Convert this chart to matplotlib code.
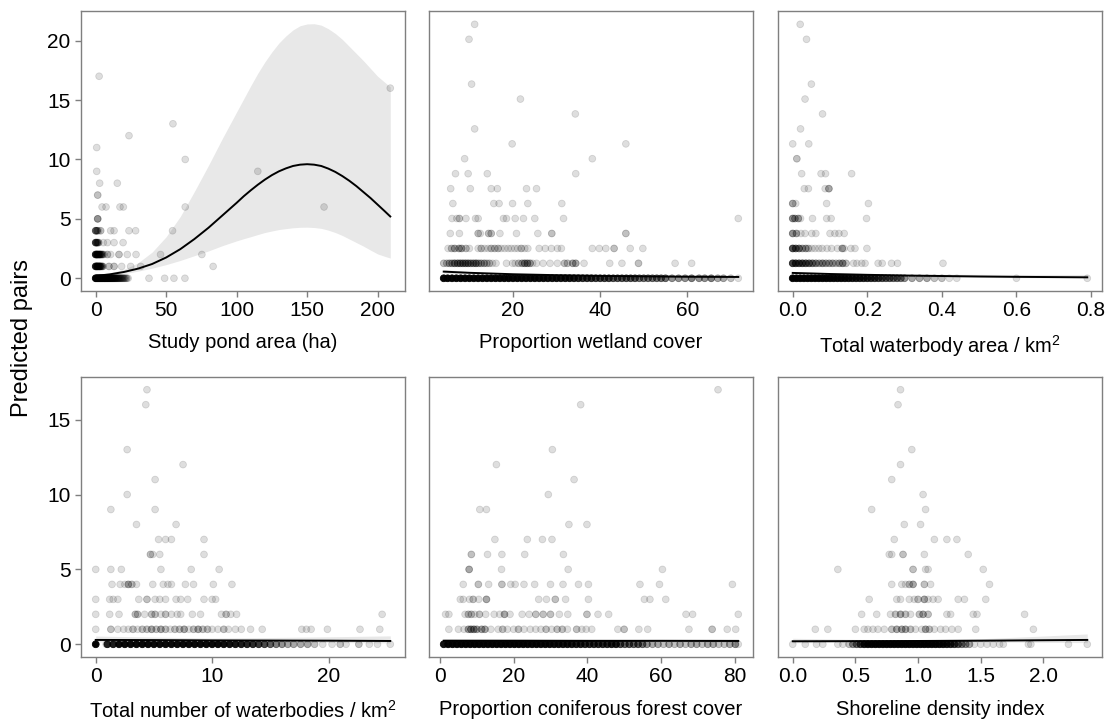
import numpy as np
import matplotlib.pyplot as plt

plt.rcParams["font.family"] = ["Liberation Sans", "DejaVu Sans"]
plt.rcParams["mathtext.fontset"] = "custom"
plt.rcParams["mathtext.rm"] = "Liberation Sans"

# ---------------------------------------------------------------
# Observed points, read off the figure: (x, y, n) where n is how
# many points sit on top of each other at that spot.
# ---------------------------------------------------------------

# Study pond area (ha)
pond_pts = [
    (0, 0, 40), (1, 0, 36), (2, 0, 32), (3, 0, 28), (4, 0, 24), (5, 0, 20), (6, 0, 18),
    (7, 0, 16), (8, 0, 14), (9, 0, 12), (10, 0, 11), (11, 0, 10), (12, 0, 9), (13, 0, 8),
    (14, 0, 7), (15, 0, 6), (16, 0, 5), (17, 0, 4), (18, 0, 4), (19, 0, 3), (20, 0, 3),
    (21, 0, 2), (22, 0, 2), (23, 0, 1), (37.8, 0, 1), (48.9, 0, 1), (55.5, 0, 1), (63.3, 0, 1),
    (0, 1, 14), (1, 1, 14), (2, 1, 12), (3, 1, 10), (4, 1, 5), (5, 1, 3), (9.4, 1, 2), (13, 1, 2),
    (18.4, 1, 1), (24.8, 1, 1), (31.9, 1, 1), (83.3, 1, 1),
    (0, 2, 14), (1, 2, 14), (2, 2, 11), (3, 2, 8), (4, 2, 5), (5, 2, 3), (6, 2, 1), (8.3, 2, 2),
    (10.6, 2, 1), (16.5, 2, 2), (22.4, 2, 1), (28.6, 2, 1), (46, 2, 1), (75.3, 2, 1),
    (0, 3, 9), (1, 3, 6), (2, 3, 3), (5.4, 3, 1), (8.3, 3, 1), (13, 3, 1), (19.4, 3, 1),
    (0, 4, 6), (1, 4, 4), (2, 4, 1), (3.5, 4, 2), (10.6, 4, 1), (13, 4, 1), (23.6, 4, 1),
    (28.3, 4, 1), (54.5, 4, 1),
    (1.4, 5, 4),
    (4.5, 6, 1), (7.3, 6, 1), (17.2, 6, 1), (19.6, 6, 1), (63.5, 6, 1), (162, 6, 1),
    (1.4, 7, 2),
    (2.8, 8, 1), (15.3, 8, 1),
    (0.7, 9, 1), (115, 9, 1),
    (63.5, 10, 1), (0.7, 11, 1), (23.6, 12, 1), (54.8, 13, 1), (209, 16, 1), (2.4, 17, 1),
]

# Proportion wetland cover
wetland_pts = [
    (4.1, 0, 28), (5, 0, 28), (6, 0, 28), (7, 0, 28), (8, 0, 28), (9, 0, 28), (10, 0, 28),
    (11, 0, 28), (12, 0, 28), (13, 0, 28), (14, 0, 28), (15, 0, 28), (16, 0, 28), (17, 0, 28),
    (18, 0, 28), (19, 0, 28), (20, 0, 26), (21, 0, 26), (22, 0, 26), (23, 0, 24), (24, 0, 24),
    (25, 0, 24), (26, 0, 22), (27, 0, 22), (28, 0, 20), (29, 0, 20), (30, 0, 20), (31, 0, 18),
    (32, 0, 18), (33, 0, 18), (34, 0, 16), (35, 0, 14), (36, 0, 12), (37, 0, 12), (38, 0, 12),
    (39, 0, 10), (40, 0, 10), (41, 0, 10), (42, 0, 10), (43, 0, 8), (44, 0, 8), (45, 0, 8),
    (46, 0, 8), (47, 0, 8), (48, 0, 8), (49, 0, 6), (50, 0, 6), (51, 0, 6), (52, 0, 6),
    (53, 0, 6), (54, 0, 6), (55, 0, 6), (56.5, 0, 4), (58, 0, 4), (59.5, 0, 4), (61, 0, 5),
    (62.7, 0, 4), (64, 0, 4), (65.5, 0, 5), (67, 0, 3), (68.3, 0, 3), (70, 0, 2), (71.7, 0, 1),
    (4.1, 1.26, 2), (4.8, 1.26, 2), (5.4, 1.26, 3), (6.0, 1.26, 3), (6.6, 1.26, 5),
    (7.3, 1.26, 5), (7.9, 1.26, 5), (8.5, 1.26, 5), (9.1, 1.26, 5), (9.7, 1.26, 5),
    (10.3, 1.26, 4), (10.9, 1.26, 4), (11.5, 1.26, 5), (12.1, 1.26, 3), (12.7, 1.26, 3),
    (13.4, 1.26, 3), (14.0, 1.26, 2), (14.6, 1.26, 2), (15.3, 1.26, 1), (16.1, 1.26, 1),
    (18.5, 1.26, 1), (19.9, 1.26, 1), (20.5, 1.26, 1), (21.3, 1.26, 2), (22.1, 1.26, 3),
    (22.7, 1.26, 4), (23.3, 1.26, 4), (23.9, 1.26, 3), (24.5, 1.26, 1), (25.4, 1.26, 1),
    (26.9, 1.26, 1), (28.5, 1.26, 1), (30.2, 1.26, 1), (31.8, 1.26, 2), (32.5, 1.26, 2),
    (33.7, 1.26, 3), (34.4, 1.26, 3), (36.3, 1.26, 1), (42.2, 1.26, 1), (45.0, 1.26, 1),
    (48.8, 1.26, 2), (57.2, 1.26, 1), (61.0, 1.26, 1),
    (5.1, 2.51, 1), (5.9, 2.51, 2), (6.6, 2.51, 3), (7.6, 2.51, 3), (8.2, 2.51, 3),
    (9.2, 2.51, 2), (10.0, 2.51, 1), (12.0, 2.51, 1), (12.7, 2.51, 2), (13.5, 2.51, 1),
    (14.3, 2.51, 1), (15.0, 2.51, 2), (15.8, 2.51, 2), (16.6, 2.51, 2), (17.3, 2.51, 1),
    (18.1, 2.51, 1), (18.9, 2.51, 1), (19.6, 2.51, 1), (20.4, 2.51, 1), (21.1, 2.51, 1),
    (21.9, 2.51, 2), (22.7, 2.51, 1), (23.4, 2.51, 1), (26.0, 2.51, 1), (27.4, 2.51, 1),
    (28.8, 2.51, 1), (30.2, 2.51, 1), (31.1, 2.51, 1), (38.2, 2.51, 1), (39.8, 2.51, 1),
    (41.3, 2.51, 1), (43.2, 2.51, 2), (46.9, 2.51, 1), (49.8, 2.51, 1),
    (5.6, 3.77, 1), (7.7, 3.77, 1), (12.0, 3.77, 2), (12.5, 3.77, 1), (14.4, 3.77, 2),
    (15.0, 3.77, 2), (17.0, 3.77, 1), (20.8, 3.77, 1), (25.7, 3.77, 1), (28.9, 3.77, 2),
    (45.9, 3.77, 2),
    (6.0, 5.03, 1), (7.1, 5.03, 1), (7.7, 5.03, 2), (9.2, 5.03, 1), (11.4, 5.03, 1),
    (12.0, 5.03, 1), (17.8, 5.03, 1), (18.5, 5.03, 1), (20.5, 5.03, 1), (22.4, 5.03, 1),
    (25.0, 5.03, 1), (31.6, 5.03, 1), (71.7, 5.03, 1),
    (6.2, 6.29, 1), (15.6, 6.29, 1), (16.8, 6.29, 1), (19.9, 6.29, 1), (23.4, 6.29, 1),
    (31.2, 6.29, 1),
    (5.7, 7.54, 1), (10.2, 7.54, 1), (15.0, 7.54, 1), (16.4, 7.54, 1), (23.1, 7.54, 1),
    (25.4, 7.54, 1),
    (6.8, 8.8, 1), (9.7, 8.8, 1), (14.1, 8.8, 1), (34.4, 8.8, 1),
    (8.9, 10.06, 1), (38.2, 10.06, 1),
    (19.8, 11.31, 1), (45.9, 11.31, 1),
    (11.2, 12.57, 1), (34.3, 13.83, 1), (21.7, 15.08, 1), (10.5, 16.34, 1),
    (9.9, 20.11, 1), (11.2, 21.37, 1),
]

# Total waterbody area / km2
area_pts = [
    (0.0, 0, 40), (0.01, 0, 40), (0.02, 0, 40), (0.03, 0, 38), (0.04, 0, 36), (0.05, 0, 36),
    (0.06, 0, 34), (0.07, 0, 32), (0.08, 0, 30), (0.09, 0, 28), (0.10, 0, 26), (0.11, 0, 24),
    (0.12, 0, 22), (0.13, 0, 22), (0.14, 0, 20), (0.15, 0, 18), (0.16, 0, 16), (0.17, 0, 15),
    (0.18, 0, 14), (0.19, 0, 13), (0.20, 0, 12), (0.21, 0, 11), (0.22, 0, 10), (0.23, 0, 9),
    (0.24, 0, 8), (0.25, 0, 7), (0.26, 0, 7), (0.27, 0, 6), (0.28, 0, 6), (0.29, 0, 5),
    (0.30, 0, 4), (0.32, 0, 3), (0.34, 0, 3), (0.36, 0, 3), (0.38, 0, 2), (0.40, 0, 2),
    (0.42, 0, 1), (0.44, 0, 1), (0.60, 0, 1), (0.79, 0, 1),
    (0.0, 1.26, 10), (0.008, 1.26, 9), (0.017, 1.26, 8), (0.026, 1.26, 8), (0.035, 1.26, 7),
    (0.044, 1.26, 6), (0.053, 1.26, 5), (0.062, 1.26, 4), (0.071, 1.26, 3), (0.08, 1.26, 4),
    (0.089, 1.26, 3), (0.098, 1.26, 3), (0.107, 1.26, 3), (0.116, 1.26, 2), (0.125, 1.26, 3),
    (0.134, 1.26, 4), (0.143, 1.26, 2), (0.163, 1.26, 1), (0.172, 1.26, 1), (0.185, 1.26, 1),
    (0.194, 1.26, 1), (0.229, 1.26, 1), (0.24, 1.26, 1), (0.265, 1.26, 1), (0.281, 1.26, 1),
    (0.403, 1.26, 1),
    (0.0, 2.51, 8), (0.008, 2.51, 6), (0.017, 2.51, 5), (0.026, 2.51, 3), (0.035, 2.51, 3),
    (0.042, 2.51, 2), (0.051, 2.51, 1), (0.06, 2.51, 1), (0.07, 2.51, 1), (0.079, 2.51, 1),
    (0.092, 2.51, 1), (0.104, 2.51, 1), (0.12, 2.51, 1), (0.133, 2.51, 3), (0.138, 2.51, 1),
    (0.156, 2.51, 1), (0.167, 2.51, 1), (0.199, 2.51, 1),
    (0.0, 3.77, 4), (0.01, 3.77, 3), (0.022, 3.77, 1), (0.033, 3.77, 1), (0.051, 3.77, 1),
    (0.062, 3.77, 1), (0.1, 3.77, 1), (0.113, 3.77, 1), (0.124, 3.77, 1), (0.138, 3.77, 1),
    (0.0, 5.03, 4), (0.006, 5.03, 3), (0.015, 5.03, 3), (0.021, 5.03, 1), (0.053, 5.03, 1),
    (0.091, 5.03, 1), (0.103, 5.03, 1), (0.198, 5.03, 1),
    (0.0, 6.29, 3), (0.008, 6.29, 1), (0.091, 6.29, 1), (0.203, 6.29, 1),
    (0.031, 7.54, 1), (0.042, 7.54, 1), (0.087, 7.54, 1), (0.097, 7.54, 3),
    (0.024, 8.8, 1), (0.076, 8.8, 1), (0.088, 8.8, 1), (0.158, 8.8, 1),
    (0.011, 10.06, 2),
    (0.0, 11.31, 1), (0.043, 11.31, 1),
    (0.021, 12.57, 1), (0.08, 13.83, 1), (0.033, 15.08, 1), (0.05, 16.34, 1),
    (0.037, 20.11, 1), (0.02, 21.37, 1),
]

# Total number of waterbodies / km2
number_pts = [
    (0, 0, 30), (0.9, 0, 1), (1.0, 0, 14), (1.5, 0, 16), (2.0, 0, 24), (2.5, 0, 24),
    (3.0, 0, 24), (3.5, 0, 24), (4.0, 0, 24), (4.5, 0, 24), (5.0, 0, 24), (5.5, 0, 24),
    (6.0, 0, 24), (6.5, 0, 24), (7.0, 0, 24), (7.5, 0, 24), (8.0, 0, 24), (8.5, 0, 24),
    (9.0, 0, 24), (9.5, 0, 24), (10.0, 0, 24), (10.5, 0, 24), (11.0, 0, 22), (11.5, 0, 20),
    (12.0, 0, 18), (12.5, 0, 16), (13.0, 0, 14), (13.5, 0, 13), (14.0, 0, 11), (14.5, 0, 9),
    (15.0, 0, 7), (15.5, 0, 5), (16.0, 0, 4), (16.5, 0, 3), (17.0, 0, 3), (17.6, 0, 3),
    (18.2, 0, 3), (18.8, 0, 2), (19.5, 0, 1), (20.3, 0, 1), (21.0, 0, 2), (21.5, 0, 1),
    (22.6, 0, 2), (23.5, 0, 1), (24.2, 0, 1), (25.3, 0, 1),
    (0, 1, 1), (1.3, 1, 2), (1.9, 1, 1), (2.4, 1, 1), (2.8, 1, 1), (3.2, 1, 2), (3.6, 1, 1),
    (4.0, 1, 2), (4.4, 1, 2), (4.8, 1, 3), (5.2, 1, 2), (5.6, 1, 3), (6.0, 1, 2), (6.4, 1, 1),
    (6.8, 1, 2), (7.2, 1, 2), (7.6, 1, 3), (8.0, 1, 1), (8.4, 1, 2), (8.8, 1, 3), (9.2, 1, 2),
    (9.6, 1, 2), (10.0, 1, 1), (10.5, 1, 1), (11.0, 1, 2), (11.4, 1, 1), (12.0, 1, 1),
    (12.5, 1, 1), (13.3, 1, 1), (14.3, 1, 1), (17.7, 1, 1), (18.1, 1, 1), (18.5, 1, 1),
    (19.9, 1, 1), (22.7, 1, 1), (24.4, 1, 1),
    (0, 2, 1), (1.2, 2, 1), (2.0, 2, 1), (3.4, 2, 2), (3.6, 2, 2), (4.2, 2, 1), (4.8, 2, 2),
    (5.1, 2, 2), (5.6, 2, 1), (6.0, 2, 2), (6.5, 2, 1), (7.0, 2, 1), (7.3, 2, 1), (8.3, 2, 1),
    (9.0, 2, 1), (10.8, 2, 1), (11.2, 2, 2), (11.6, 2, 1), (12.1, 2, 1), (24.6, 2, 1),
    (0, 3, 1), (1.2, 3, 1), (1.5, 3, 1), (1.9, 3, 1), (3.7, 3, 1), (4.4, 3, 2), (5.1, 3, 1),
    (5.5, 3, 1), (6.0, 3, 1), (6.9, 3, 1), (7.3, 3, 1), (7.9, 3, 1), (9.3, 3, 1), (10.0, 3, 1),
    (10.3, 3, 1),
    (1.4, 4, 1), (2.1, 4, 1), (2.5, 4, 1), (2.8, 4, 3), (3.1, 4, 2), (3.5, 4, 1), (4.9, 4, 1),
    (5.8, 4, 1), (6.2, 4, 1), (6.5, 4, 1), (7.7, 4, 1), (8.4, 4, 1), (10.1, 4, 1), (11.7, 4, 1),
    (0, 5, 1), (1.3, 5, 1), (2.2, 5, 1), (5.6, 5, 1), (8.2, 5, 1), (10.6, 5, 1),
    (4.7, 6, 2), (4.9, 6, 1), (5.5, 6, 1), (9.3, 6, 1),
    (5.4, 7, 1), (6.0, 7, 1), (6.5, 7, 1), (9.3, 7, 1),
    (3.5, 8, 1), (6.9, 8, 1), (1.3, 9, 1), (5.1, 9, 1),
    (2.7, 10, 1), (5.1, 11, 1), (7.5, 12, 1), (2.7, 13, 1), (4.3, 16, 1), (4.4, 17, 1),
]

# Proportion coniferous forest cover
conifer_pts = [
    (1.0, 0, 20), (2.2, 0, 28), (3.4, 0, 28), (4.6, 0, 28), (5.8, 0, 28), (7.0, 0, 28),
    (8.2, 0, 28), (9.4, 0, 28), (10.6, 0, 28), (11.8, 0, 28), (13.0, 0, 28), (14.2, 0, 28),
    (15.4, 0, 28), (16.6, 0, 28), (17.8, 0, 28), (19.0, 0, 28), (20.2, 0, 28), (21.4, 0, 28),
    (22.6, 0, 28), (23.8, 0, 26), (25.0, 0, 26), (26.2, 0, 26), (27.4, 0, 24), (28.6, 0, 24),
    (29.8, 0, 24), (31.0, 0, 22), (32.2, 0, 22), (33.4, 0, 20), (34.6, 0, 20), (35.8, 0, 18),
    (37.0, 0, 16), (38.2, 0, 16), (39.4, 0, 14), (40.6, 0, 14), (41.8, 0, 14), (43.0, 0, 14),
    (44.2, 0, 14), (45.4, 0, 14), (46.6, 0, 16), (47.8, 0, 16), (49.0, 0, 9), (50.2, 0, 7),
    (51.4, 0, 8), (52.6, 0, 7), (53.8, 0, 8), (55.0, 0, 6), (56.2, 0, 4), (57.7, 0, 3),
    (59.2, 0, 3), (60.7, 0, 2), (62.2, 0, 3), (63.7, 0, 2), (65.2, 0, 3), (66.7, 0, 2),
    (68.2, 0, 3), (69.7, 0, 3), (71.2, 0, 2), (72.7, 0, 3), (74.2, 0, 3), (75.7, 0, 2),
    (77.2, 0, 2), (78.7, 0, 3), (80.2, 0, 4), (81.0, 0, 1),
    (2.4, 1, 1), (5.0, 1, 1), (6.5, 1, 1), (7.7, 1, 3), (8.4, 1, 4), (9.2, 1, 4), (10.0, 1, 3),
    (11.3, 1, 3), (12.2, 1, 3), (13.8, 1, 1), (15.8, 1, 1), (17.0, 1, 2), (18.3, 1, 1),
    (20.0, 1, 1), (21.3, 1, 2), (22.8, 1, 1), (24.5, 1, 1), (26.0, 1, 1), (27.4, 1, 1),
    (28.8, 1, 2), (30.3, 1, 1), (31.8, 1, 2), (33.2, 1, 2), (34.6, 1, 1), (37.1, 1, 2),
    (38.5, 1, 1), (39.7, 1, 1), (41.2, 1, 1), (48.3, 1, 1), (50.0, 1, 2), (54.0, 1, 1),
    (56.4, 1, 1), (67.6, 1, 1), (73.9, 1, 2), (78.0, 1, 1), (80.3, 1, 1),
    (1.5, 2, 1), (2.4, 2, 1), (6.8, 2, 1), (7.7, 2, 2), (8.5, 2, 2), (9.4, 2, 1), (10.7, 2, 2),
    (12.4, 2, 1), (14.7, 2, 1), (16.2, 2, 1), (17.5, 2, 3), (19.0, 2, 1), (22.3, 2, 1),
    (24.2, 2, 1), (26.0, 2, 2), (28.0, 2, 2), (30.0, 2, 2), (32.4, 2, 1), (34.7, 2, 1),
    (39.9, 2, 2), (42.9, 2, 1), (45.8, 2, 1), (66.8, 2, 1), (68.6, 2, 1), (81.0, 2, 1),
    (5.5, 3, 1), (6.3, 3, 1), (8.0, 3, 1), (9.0, 3, 2), (10.5, 3, 1), (12.6, 3, 3),
    (26.8, 3, 1), (28.9, 3, 1), (31.3, 3, 2), (34.1, 3, 1), (40.3, 3, 1), (55.5, 3, 1),
    (57.0, 3, 1), (61.3, 3, 1),
    (6.3, 4, 1), (10.4, 4, 2), (13.2, 4, 1), (16.8, 4, 2), (19.2, 4, 1), (20.4, 4, 1),
    (22.8, 4, 1), (25.7, 4, 1), (30.0, 4, 1), (33.4, 4, 1), (37.6, 4, 1), (40.3, 4, 1),
    (54.3, 4, 1), (59.6, 4, 1), (79.4, 4, 1),
    (7.9, 5, 3), (16.7, 5, 1), (34.8, 5, 1), (60.4, 5, 1),
    (8.5, 6, 2), (12.9, 6, 1), (16.8, 6, 1), (23.0, 6, 1), (33.5, 6, 1),
    (14.9, 7, 1), (23.7, 7, 1), (27.8, 7, 1), (30.4, 7, 1),
    (35.0, 8, 1), (39.9, 8, 1), (10.8, 9, 1), (12.6, 9, 1),
    (29.4, 10, 1), (36.4, 11, 1), (15.3, 12, 1), (30.5, 13, 1), (38.2, 16, 1), (75.5, 17, 1),
]

# Shoreline density index
shore_pts = [
    (0.0, 0, 1), (0.1, 0, 1), (0.19, 0, 1), (0.24, 0, 1), (0.36, 0, 1), (0.40, 0, 1),
    (0.45, 0, 2), (0.48, 0, 4), (0.51, 0, 6), (0.54, 0, 10), (0.57, 0, 18), (0.60, 0, 24),
    (0.63, 0, 26), (0.66, 0, 26), (0.69, 0, 26), (0.72, 0, 26), (0.75, 0, 26), (0.78, 0, 26),
    (0.81, 0, 26), (0.84, 0, 26), (0.87, 0, 26), (0.90, 0, 26), (0.93, 0, 26), (0.96, 0, 26),
    (0.99, 0, 26), (1.02, 0, 26), (1.05, 0, 26), (1.08, 0, 26), (1.11, 0, 26), (1.14, 0, 24),
    (1.17, 0, 22), (1.20, 0, 20), (1.23, 0, 16), (1.26, 0, 13), (1.29, 0, 10), (1.32, 0, 7),
    (1.35, 0, 5), (1.38, 0, 4), (1.41, 0, 3), (1.45, 0, 1), (1.50, 0, 1), (1.55, 0, 1),
    (1.60, 0, 1), (1.65, 0, 1), (1.68, 0, 1), (1.88, 0, 1), (1.90, 0, 1), (2.20, 0, 1),
    (2.35, 0, 1),
    (0.18, 1, 1), (0.28, 1, 1), (0.50, 1, 1), (0.57, 1, 1), (0.60, 1, 1), (0.64, 1, 1),
    (0.68, 1, 1), (0.73, 1, 1), (0.79, 1, 2), (0.83, 1, 3), (0.87, 1, 3), (0.90, 1, 3),
    (0.94, 1, 2), (0.98, 1, 1), (1.03, 1, 1), (1.06, 1, 3), (1.09, 1, 2), (1.13, 1, 1),
    (1.18, 1, 1), (1.22, 1, 1), (1.27, 1, 1), (1.32, 1, 1), (1.46, 1, 1), (1.92, 1, 1),
    (0.55, 2, 1), (0.67, 2, 1), (0.78, 2, 1), (0.82, 2, 2), (0.86, 2, 3), (0.90, 2, 2),
    (0.94, 2, 1), (1.01, 2, 2), (1.04, 2, 3), (1.08, 2, 2), (1.23, 2, 1), (1.26, 2, 1),
    (1.44, 2, 1), (1.47, 2, 1), (1.85, 2, 1),
    (0.61, 3, 1), (0.83, 3, 1), (0.86, 3, 1), (0.93, 3, 1), (0.97, 3, 1), (1.00, 3, 2),
    (1.05, 3, 3), (1.08, 3, 1), (1.12, 3, 1), (1.16, 3, 1), (1.32, 3, 1), (1.37, 3, 1),
    (1.54, 3, 1),
    (0.79, 4, 1), (0.87, 4, 1), (0.90, 4, 1), (0.93, 4, 2), (0.96, 4, 3), (1.05, 4, 2),
    (1.10, 4, 1), (1.57, 4, 1),
    (0.36, 5, 1), (0.96, 5, 2), (1.06, 5, 1), (1.08, 5, 1), (1.52, 5, 1),
    (0.77, 6, 1), (0.79, 6, 1), (0.88, 6, 2), (1.05, 6, 1), (1.40, 6, 1),
    (0.81, 7, 1), (1.13, 7, 1), (1.23, 7, 1), (1.31, 7, 1),
    (0.89, 8, 1), (1.02, 8, 1), (0.63, 9, 1), (1.06, 9, 1),
    (1.04, 10, 1), (0.79, 11, 1), (0.86, 12, 1), (0.95, 13, 1), (0.84, 16, 1), (0.86, 17, 1),
]

# ---------------------------------------------------------------
# Fitted curves with confidence bands
# ---------------------------------------------------------------
pond_fit_x = [0, 10, 20, 30, 40, 50, 60, 70, 80, 90, 100, 105, 110, 115, 120, 125, 130, 135,
              140, 145, 150, 155, 160, 165, 170, 175, 180, 185, 190, 195, 200, 205, 209]
pond_fit_y = [0.20, 0.33, 0.53, 0.81, 1.20, 1.75, 2.45, 3.30, 4.25, 5.30, 6.35, 6.90, 7.40,
              7.87, 8.30, 8.68, 9.00, 9.25, 9.45, 9.56, 9.60, 9.56, 9.45, 9.23, 8.95, 8.60,
              8.20, 7.75, 7.25, 6.75, 6.20, 5.65, 5.20]
pond_fit_lo = [0.10, 0.22, 0.38, 0.60, 0.85, 1.15, 1.50, 1.90, 2.30, 2.75, 3.15, 3.33, 3.50,
               3.68, 3.85, 3.98, 4.10, 4.18, 4.25, 4.29, 4.30, 4.27, 4.20, 4.05, 3.85, 3.60,
               3.30, 3.00, 2.70, 2.37, 2.05, 1.85, 1.70]
pond_fit_hi = [0.30, 0.45, 0.75, 1.30, 2.20, 3.50, 5.20, 7.30, 9.50, 11.80, 14.00, 15.10,
               16.20, 17.25, 18.20, 19.05, 19.80, 20.40, 20.90, 21.25, 21.40, 21.42, 21.30,
               21.00, 20.60, 20.10, 19.50, 18.90, 18.30, 17.65, 17.00, 16.50, 16.10]

wetland_fit_x = [4.1, 10, 20, 30, 40, 50, 60, 71.7]
wetland_fit_y = [0.56, 0.46, 0.34, 0.26, 0.20, 0.16, 0.13, 0.11]
wetland_fit_lo = [0.42, 0.37, 0.29, 0.21, 0.15, 0.11, 0.08, 0.06]
wetland_fit_hi = [0.74, 0.57, 0.40, 0.32, 0.27, 0.23, 0.21, 0.20]

area_fit_x = [0, 0.1, 0.2, 0.3, 0.4, 0.5, 0.6, 0.7, 0.79]
area_fit_y = [0.45, 0.36, 0.29, 0.23, 0.19, 0.15, 0.12, 0.10, 0.08]
area_fit_lo = [0.36, 0.29, 0.21, 0.15, 0.11, 0.07, 0.05, 0.03, 0.02]
area_fit_hi = [0.58, 0.46, 0.40, 0.36, 0.34, 0.33, 0.32, 0.32, 0.32]

number_fit_x = [0, 5, 10, 15, 20, 25.3]
number_fit_y = [0.29, 0.28, 0.26, 0.25, 0.24, 0.22]
number_fit_lo = [0.15, 0.18, 0.18, 0.16, 0.12, 0.09]
number_fit_hi = [0.55, 0.48, 0.42, 0.45, 0.50, 0.56]

conifer_fit_x = [1, 20, 40, 60, 81]
conifer_fit_y = [0.24, 0.24, 0.23, 0.23, 0.22]
conifer_fit_lo = [0.15, 0.18, 0.18, 0.16, 0.13]
conifer_fit_hi = [0.36, 0.31, 0.30, 0.33, 0.38]

shore_fit_x = [0, 0.5, 1.0, 1.5, 2.0, 2.35]
shore_fit_y = [0.20, 0.21, 0.22, 0.24, 0.27, 0.29]
shore_fit_lo = [0.10, 0.14, 0.17, 0.16, 0.13, 0.11]
shore_fit_hi = [0.40, 0.33, 0.30, 0.37, 0.55, 0.69]

x_labels = ["Study pond area (ha)", "Proportion wetland cover", "Total waterbody area / km$^2$",
            "Total number of waterbodies / km$^2$", "Proportion coniferous forest cover",
            "Shoreline density index"]
x_ticks = [[0, 50, 100, 150, 200], [20, 40, 60], [0.0, 0.2, 0.4, 0.6, 0.8],
           [0, 10, 20], [0, 20, 40, 60, 80], [0.0, 0.5, 1.0, 1.5, 2.0]]
x_ticklabels = [["0", "50", "100", "150", "200"], ["20", "40", "60"],
                ["0.0", "0.2", "0.4", "0.6", "0.8"], ["0", "10", "20"],
                ["0", "20", "40", "60", "80"], ["0.0", "0.5", "1.0", "1.5", "2.0"]]
y_ticks_top = [0, 5, 10, 15, 20]
y_ticks_bottom = [0, 5, 10, 15]

panels = [
    (pond_pts, pond_fit_x, pond_fit_y, pond_fit_lo, pond_fit_hi),
    (wetland_pts, wetland_fit_x, wetland_fit_y, wetland_fit_lo, wetland_fit_hi),
    (area_pts, area_fit_x, area_fit_y, area_fit_lo, area_fit_hi),
    (number_pts, number_fit_x, number_fit_y, number_fit_lo, number_fit_hi),
    (conifer_pts, conifer_fit_x, conifer_fit_y, conifer_fit_lo, conifer_fit_hi),
    (shore_pts, shore_fit_x, shore_fit_y, shore_fit_lo, shore_fit_hi),
]

# ---------------------------------------------------------------
W, H = 1111, 725
fig = plt.figure(figsize=(W / 100, H / 100), dpi=100)

col_left = [81, 429, 778]
row_top = [11, 377]
ax_w, ax_h = 324, 280
frame_col = "#7f7f7f"
alpha1 = 0.13

axes = []
for i, (pts, fx, fy, flo, fhi) in enumerate(panels):
    r, c = divmod(i, 3)
    rect = [col_left[c] / W, 1 - (row_top[r] + ax_h) / H, ax_w / W, ax_h / H]
    share = axes[3 * r] if c > 0 else None
    ax = fig.add_axes(rect, sharey=share)
    axes.append(ax)

    arr = np.array(pts, dtype=float)
    px, py, pn = arr[:, 0], arr[:, 1], arr[:, 2]
    a = 1 - (1 - alpha1) ** pn
    colors = np.zeros((len(px), 4))
    colors[:, 3] = a

    ax.fill_between(fx, flo, fhi, color="#e8e8e8", lw=0, zorder=1)
    ax.scatter(px, py, s=24, c=colors, edgecolors=colors, linewidths=0.6, zorder=2)
    ax.plot(fx, fy, color="black", lw=1.4, zorder=3)

    for sp in ax.spines.values():
        sp.set_color(frame_col)
        sp.set_linewidth(1.0)
    ax.tick_params(colors=frame_col, labelcolor="black", length=4.5, width=1.0,
                   labelsize=15, pad=3)
    ax.set_xticks(x_ticks[i])
    ax.set_xticklabels(x_ticklabels[i])
    ax.set_xlabel(x_labels[i], fontsize=14.5, labelpad=10 if r == 1 else 9)
    if c == 0:
        ax.set_yticks(y_ticks_top if r == 0 else y_ticks_bottom)
    else:
        ax.tick_params(axis="y", left=False, labelleft=False)

fig.text(22 / W, 1 - 338 / H, "Predicted pairs", rotation=90, ha="center", va="center",
         fontsize=17)

fig.savefig("out.png", dpi=100)
